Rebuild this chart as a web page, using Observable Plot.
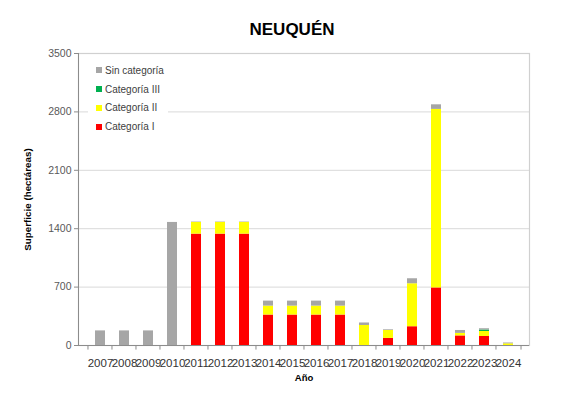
<!DOCTYPE html>
<html>
<head>
<meta charset="utf-8">
<script src="https://cdn.jsdelivr.net/npm/d3@7"></script>
<script src="https://cdn.jsdelivr.net/npm/@observablehq/plot@0.6"></script>
<style>
  html, body { margin: 0; padding: 0; background: #fff; }
  #wrap { position: relative; width: 572px; height: 395px; font-family: "Liberation Sans", Arial, sans-serif; }
  #title { position: absolute; left: 0; top: 20px; width: 584px; text-align: center; font-weight: bold; font-size: 17px; color: #000; }
  #legend { position: absolute; left: 88px; top: 59px; width: 80px; background: #fff; padding: 2px 0; }
  .li { display: flex; align-items: center; height: 18.8px; font-size: 10px; color: #404040; }
  .sw { width: 6px; height: 6px; margin-left: 8px; margin-right: 3px; }
</style>
</head>
<body>
<div id="wrap">
  <div id="chart"></div>
  <div id="title">NEUQUÉN</div>
  <div id="legend"></div>
</div>
<script>
const years = ["2007","2008","2009","2010","2011","2012","2013","2014","2015","2016","2017","2018","2019","2020","2021","2022","2023","2024"];
const catI   = [0,0,0,0,1335,1335,1335,365,365,365,365,0,85,225,690,115,108,0];
const catII  = [0,0,0,0,140,140,140,107,107,107,107,240,95,515,2140,30,60,20];
const catIII = [0,0,0,0,0,0,0,0,0,0,0,0,0,0,0,0,18,0];
const sinCat = [175,175,175,1475,5,5,5,60,60,60,60,30,8,60,55,35,15,10];
const yTicks = [0,700,1400,2100,2800,3500];
const seriesNames = ["Categoría I","Categoría II","Categoría III","Sin categoría"];
const seriesColors = ["#ff0000","#ffff00","#00b050","#a6a6a6"];
const seriesValues = [catI, catII, catIII, sinCat];

const rows = [];
seriesNames.forEach((s, si) => {
  years.forEach((y, i) => rows.push({year: y, serie: s, value: seriesValues[si][i]}));
});

const W = 572, H = 395, mL = 78, mR = 43, mT = 53, mB = 50;
const step = (W - mL - mR) / years.length;

const chart = Plot.plot({
  width: W,
  height: H,
  marginLeft: mL,
  marginRight: mR,
  marginTop: mT,
  marginBottom: mB,
  style: {fontFamily: "Liberation Sans, Arial, sans-serif", background: "#fff"},
  x: {domain: years, padding: 0.59, label: null},
  y: {domain: [0, 3500], ticks: yTicks, label: null},
  color: {domain: seriesNames, range: seriesColors},
  marks: [
    Plot.gridY(yTicks, {stroke: "#d9d9d9", strokeOpacity: 1}),
    Plot.frame({stroke: "#d0d0d0", strokeWidth: 1.2}),
    Plot.barY(rows, {x: "year", y: "value", fill: "serie", order: seriesNames}),
    Plot.ruleY([0], {stroke: "#8c8c8c"}),
    Plot.frame({anchor: "left", stroke: "#8c8c8c"}),
    Plot.ruleX(years, {x: d => d, dx: -step / 2, y1: 0, y2: -55, stroke: "#8c8c8c"}),
    Plot.ruleX(years.slice(-1), {x: d => d, dx: step / 2, y1: 0, y2: -55, stroke: "#8c8c8c"}),
    Plot.axisY(yTicks, {tickSize: 4, tickPadding: 3, fontSize: 10.5, fill: "#595959", stroke: "#8c8c8c", label: null, tickFormat: d3.format("d")}),
    Plot.axisX(years, {tickSize: 0, tickPadding: 13, fontSize: 11.5, fill: "#333", label: null}),
    Plot.text(["Superficie (hectáreas)"], {frameAnchor: "left", textAnchor: "middle", dx: -51, rotate: -90, fontWeight: "bold", fontSize: 9.8, fill: "#000"}),
    Plot.text(["Año"], {frameAnchor: "bottom", dy: 35.5, fontWeight: "bold", fontSize: 9.5, fill: "#000"})
  ]
});
document.getElementById("chart").appendChild(chart);

const legendOrder = [3, 2, 1, 0];
const leg = document.getElementById("legend");
legendOrder.forEach(i => {
  const d = document.createElement("div");
  d.className = "li";
  d.innerHTML = `<span class="sw" style="background:${seriesColors[i]}"></span><span>${seriesNames[i]}</span>`;
  leg.appendChild(d);
});
</script>
</body>
</html>
